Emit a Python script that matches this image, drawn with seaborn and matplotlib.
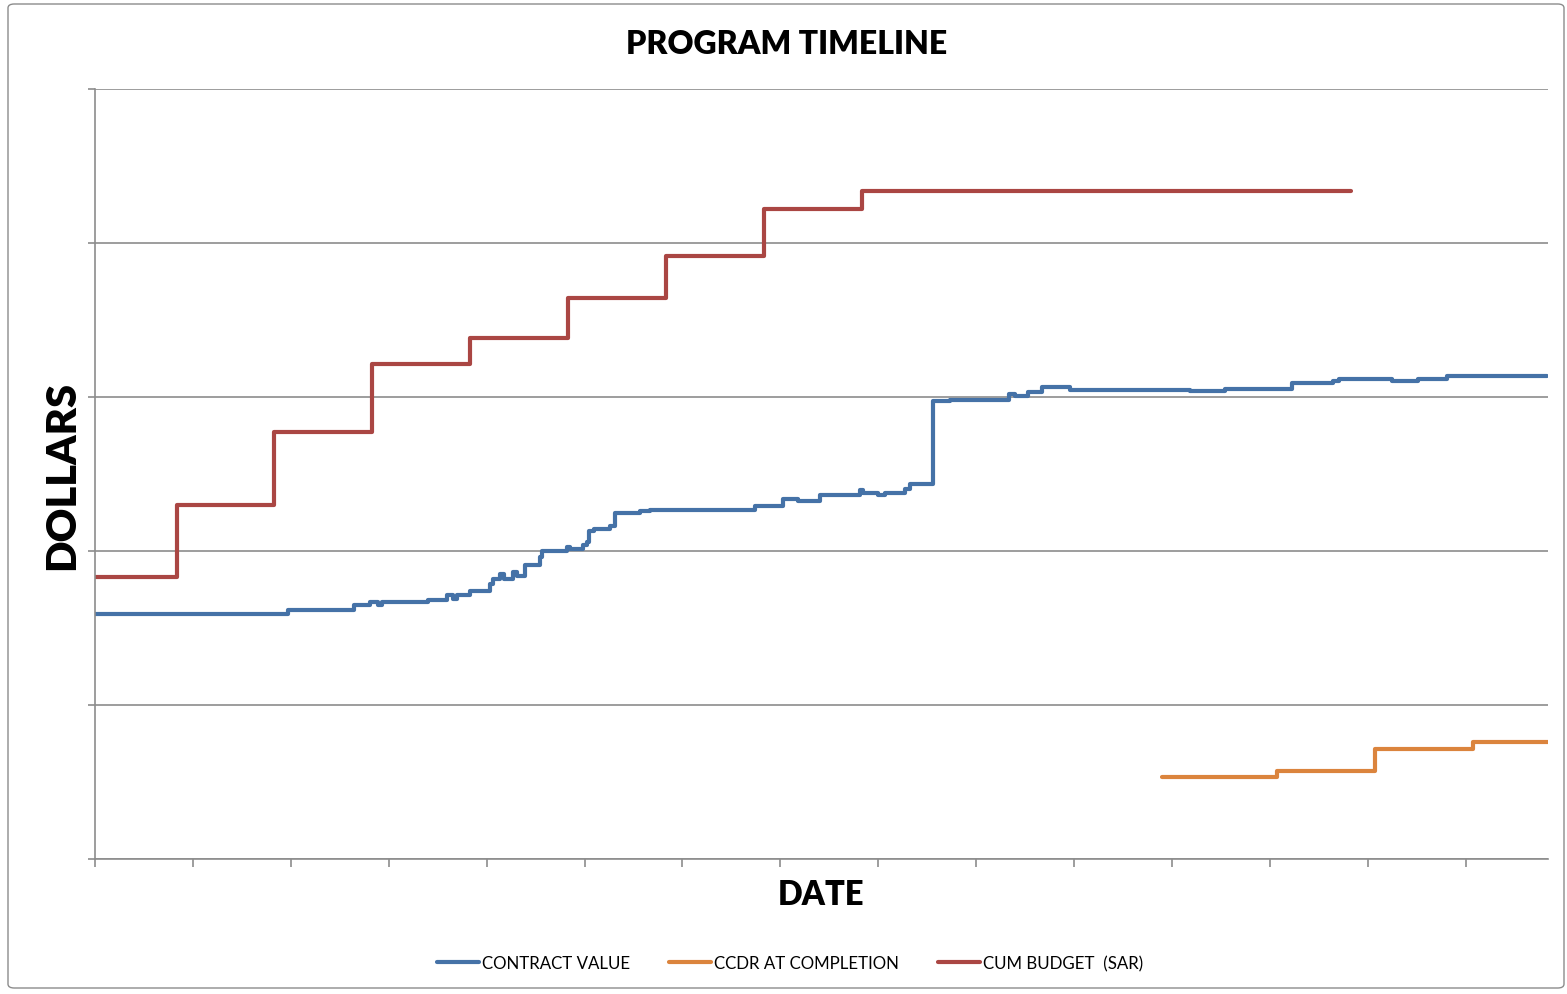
import matplotlib
matplotlib.use("Agg")
import matplotlib.pyplot as plt
import matplotlib.patches as mpatches
import seaborn as sns
import pandas as pd

# Time axis is in tick periods; dollar axis is in gridline units (no labels shown)
contract_x = [0.00, 1.97, 2.65, 2.81, 2.89, 2.93, 3.40, 3.60, 3.66, 3.70, 3.83,
              4.03, 4.06, 4.14, 4.18, 4.27, 4.31, 4.39, 4.54, 4.57, 4.82, 4.85,
              4.98, 5.02, 5.05, 5.10, 5.26, 5.31, 5.57, 5.67, 6.74, 7.03, 7.18,
              7.40, 7.81, 7.84, 8.00, 8.07, 8.27, 8.32, 8.56, 8.73, 9.34, 9.40,
              9.53, 9.67, 9.96, 11.18, 11.54, 12.23, 12.64, 12.71, 13.25, 13.51,
              13.81, 14.83]
contract_y = [1.591, 1.617, 1.649, 1.669, 1.649, 1.669, 1.679, 1.714, 1.688, 1.714,
              1.740, 1.786, 1.818, 1.851, 1.818, 1.864, 1.838, 1.909, 1.961, 2.000,
              2.026, 2.013, 2.039, 2.058, 2.130, 2.143, 2.162, 2.247, 2.260, 2.266,
              2.292, 2.338, 2.325, 2.364, 2.396, 2.377, 2.364, 2.377, 2.403, 2.435,
              2.974, 2.981, 3.019, 3.006, 3.032, 3.065, 3.045, 3.039, 3.052, 3.091,
              3.104, 3.117, 3.104, 3.117, 3.136, 3.136]

ccdr_x = [10.90, 12.07, 13.07, 14.07, 14.84]
ccdr_y = [0.532, 0.571, 0.714, 0.760, 0.760]

budget_x = [0.00, 0.84, 1.83, 2.83, 3.83, 4.83, 5.83, 6.83, 7.83, 12.83]
budget_y = [1.831, 2.299, 2.773, 3.214, 3.383, 3.643, 3.916, 4.221, 4.338, 4.338]

series_names = ["CONTRACT VALUE", "CCDR AT COMPLETION", "CUM BUDGET  (SAR)"]
series_colors = ["#4572A7", "#DB843D", "#AA4643"]

df = pd.concat([
    pd.DataFrame({"date": contract_x, "dollars": contract_y, "series": series_names[0]}),
    pd.DataFrame({"date": ccdr_x, "dollars": ccdr_y, "series": series_names[1]}),
    pd.DataFrame({"date": budget_x, "dollars": budget_y, "series": series_names[2]}),
], ignore_index=True)

sns.set_style("white")
plt.rcParams["font.family"] = ["Lato", "DejaVu Sans"]
plt.rcParams["text.color"] = "black"

W, H = 1567, 995
fig = plt.figure(figsize=(W / 100, H / 100), dpi=100)
ax = fig.add_axes([95 / W, 1 - 860 / H, (1548 - 95) / W, (860 - 90) / H])

sns.lineplot(data=df, x="date", y="dollars", hue="series",
             hue_order=series_names, palette=series_colors,
             estimator=None, sort=True, drawstyle="steps-post",
             linewidth=3.0, ax=ax, legend=True)
for ln in ax.get_lines():
    ln.set_solid_capstyle("round")

ax.set_xlim(0, 14.84)
ax.set_ylim(0, 5)
ax.set_xticks(range(0, 15))
ax.set_yticks(range(0, 6))
ax.set_xticklabels([])
ax.set_yticklabels([])
ax.yaxis.grid(True, color="#8c8c8c", linewidth=1.2)
ax.xaxis.grid(False)
ax.set_axisbelow(True)
for side in ["top", "right"]:
    ax.spines[side].set_visible(False)
for side in ["left", "bottom"]:
    ax.spines[side].set_color("#8c8c8c")
    ax.spines[side].set_linewidth(1.2)
ax.tick_params(axis="x", direction="out", length=6, width=1.2, color="#8c8c8c", bottom=True)
ax.tick_params(axis="y", direction="out", length=5, width=1.2, color="#8c8c8c", left=True)
ax.set_xlabel("")
ax.set_ylabel("")

fig.text(787 / W, 1 - 45 / H, "PROGRAM TIMELINE", ha="center", va="center",
         fontsize=23, fontweight="heavy", color="black")
fig.text(62 / W, 1 - 475 / H, "DOLLARS", ha="center", va="center",
         fontsize=30, fontweight="heavy", rotation=90, color="black")
fig.text(821 / W, 1 - 895 / H, "DATE", ha="center", va="center",
         fontsize=23.5, fontweight="heavy", color="black")

handles, labels = ax.get_legend_handles_labels()
ax.get_legend().remove()
leg = fig.legend(handles, labels, loc="center", bbox_to_anchor=(790 / W, 1 - 964 / H),
                 ncol=3, frameon=False, fontsize=12.2, handlelength=2.5,
                 handletextpad=0.15, columnspacing=2.3)
for h in leg.legend_handles:
    h.set_linewidth(3)
for t in leg.get_texts():
    t.set_color("black")

# chart area border
fig.patches.append(mpatches.FancyBboxPatch((8 / W, 6 / H), (W - 3) / W - 8 / W, (H - 5) / H - 6 / H,
                                           boxstyle="round,pad=0,rounding_size=0.004",
                                           transform=fig.transFigure, fill=False,
                                           edgecolor="#8c8c8c", linewidth=1.0))

fig.savefig("out.png", dpi=100)
